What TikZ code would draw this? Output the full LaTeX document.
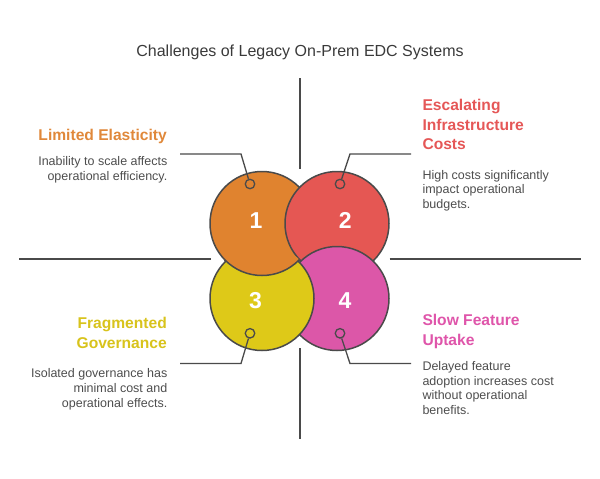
\documentclass[tikz,border=0pt]{standalone}
\usepackage{fontspec}
\setmainfont{Liberation Sans}
\definecolor{lineC}{HTML}{4A4A4A}
\definecolor{txtC}{HTML}{4D4D4D}
\definecolor{titleC}{HTML}{3A3A3A}
\definecolor{orangeC}{HTML}{E0832F}
\definecolor{redC}{HTML}{E55753}
\definecolor{yellowC}{HTML}{DEC918}
\definecolor{pinkC}{HTML}{DC57A8}
\definecolor{orangeT}{HTML}{E0883A}
\definecolor{redT}{HTML}{E55757}
\definecolor{yellowT}{HTML}{D8C31C}
\definecolor{pinkT}{HTML}{DF55AA}
\tikzset{
  bigcirc/.style={circle, draw=lineC, line width=1.5pt, minimum size=104pt, inner sep=0pt},
  numtxt/.style={text=white, font={\fontsize{23}{23}\selectfont\bfseries}, inner sep=0pt, anchor=base},
  ring/.style={circle, draw=lineC, line width=1.3pt, minimum size=9.5pt, inner sep=0pt},
  conn/.style={draw=lineC, line width=1.3pt},
  cross/.style={draw=lineC, line width=1.3pt},
  headR/.style={font={\fontsize{15.6}{19.5}\selectfont\bfseries}, align=right, anchor=base east, inner sep=0pt},
  headL/.style={font={\fontsize{15.6}{19.5}\selectfont\bfseries}, align=left, anchor=base west, inner sep=0pt},
  descR/.style={text=txtC, font={\fontsize{12.5}{14.7}\selectfont}, align=right, anchor=base east, inner sep=0pt},
  descL/.style={text=txtC, font={\fontsize{12.5}{14.7}\selectfont}, align=left, anchor=base west, inner sep=0pt},
}
\begin{document}
\begin{tikzpicture}[x=1pt, y=-1pt]
\useasboundingbox (0,0) rectangle (600,479);
\node[text=titleC, font={\fontsize{16}{16}\selectfont}, anchor=base, inner sep=0pt] (title) at (300,56.7) {Challenges of Legacy On-Prem EDC Systems};

% cross lines
\coordinate (vt1) at (300,78.3); \coordinate (vt2) at (300,169);
\coordinate (vb1) at (300,348); \coordinate (vb2) at (300,439);
\coordinate (hl1) at (19,259); \coordinate (hl2) at (210.5,259);
\coordinate (hr1) at (389.5,259); \coordinate (hr2) at (580.7,259);
\draw[cross] (vt1) -- (vt2);
\draw[cross] (vb1) -- (vb2);
\draw[cross] (hl1) -- (hl2);
\draw[cross] (hr1) -- (hr2);

% circles: 1 under 2, 2 under 4, 4 under 3, 3 under 1
\node[bigcirc, fill=orangeC] (c1) at (262,223.5) {};
\node[bigcirc, fill=redC] (c2) at (337,223.5) {};
\node[bigcirc, fill=pinkC] (c4) at (337,298.5) {};
\node[bigcirc, fill=yellowC] (c3) at (262,298.5) {};
\begin{scope}
  \clip (c3.center) circle (54pt);
  \node[bigcirc, fill=orangeC] (c1b) at (262,223.5) {};
\end{scope}

\node[numtxt] (n1) at (256,228.3) {1};
\node[numtxt] (n2) at (345.3,228.3) {2};
\node[numtxt] (n3) at (255.5,308) {3};
\node[numtxt] (n4) at (345,308) {4};

% rings and connectors
\node[ring] (r1) at (250,184) {};
\node[ring] (r2) at (340,184) {};
\node[ring] (r3) at (250,333.3) {};
\node[ring] (r4) at (340,333.3) {};
\coordinate (e1) at (241,154); \coordinate (t1) at (180,154);
\coordinate (e2) at (350,154); \coordinate (t2) at (411,154);
\coordinate (e3) at (241,363.5); \coordinate (t3) at (180,363.5);
\coordinate (e4) at (350,363.5); \coordinate (t4) at (411,363.5);
\draw[conn] (r1) -- (e1) -- (t1);
\draw[conn] (r2) -- (e2) -- (t2);
\draw[conn] (r3) -- (e3) -- (t3);
\draw[conn] (r4) -- (e4) -- (t4);

% texts (base anchor = last line baseline)
\node[headR, text=orangeT] (h1) at (167,140) {Limited Elasticity};
\node[descR] (d1) at (167.5,180) {Inability to scale affects\\operational efficiency.};
\node[headL, text=redT] (h2) at (422.3,149.5) {Escalating\\Infrastructure\\Costs};
\node[descL] (d2) at (422.3,208.5) {High costs significantly\\impact operational\\budgets.};
\node[headR, text=yellowT] (h3) at (167,348.3) {Fragmented\\Governance};
\node[descR] (d3) at (167.5,407) {Isolated governance has\\minimal cost and\\operational effects.};
\node[headL, text=pinkT] (h4) at (422.3,345) {Slow Feature\\Uptake};
\node[descL] (d4) at (422.3,414.5) {Delayed feature\\adoption increases cost\\without operational\\benefits.};
\end{tikzpicture}
\end{document}
